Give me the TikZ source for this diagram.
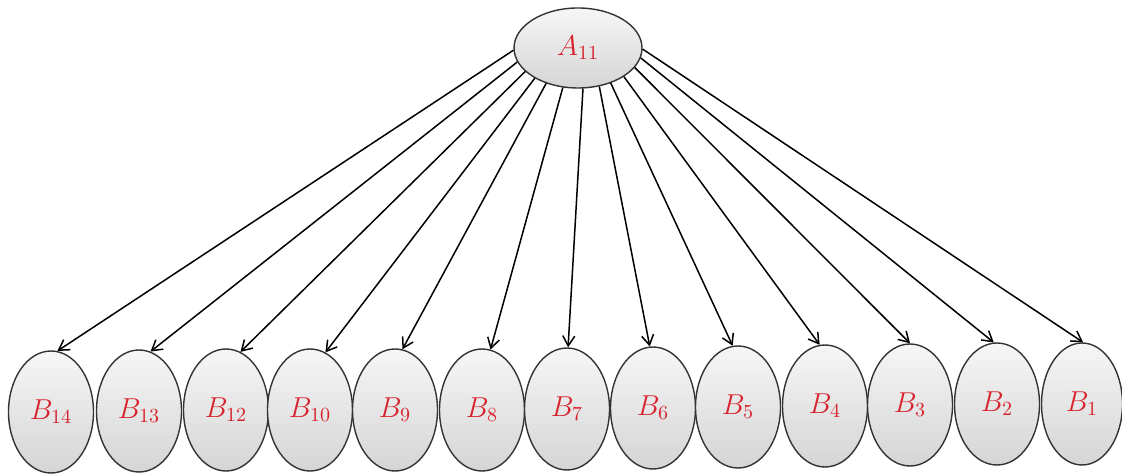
\documentclass[tikz,border=0pt]{standalone}
\usetikzlibrary{shapes.geometric,arrows.meta}
\definecolor{lblred}{RGB}{215,35,45}
\begin{document}
\begin{tikzpicture}[x=0.5pt,y=-0.5pt,
  bub/.style={ellipse,draw=black!80,line width=0.7pt,top color=gray!7,bottom color=gray!33,
     minimum width=42.5pt,minimum height=61pt,inner sep=0pt,text=lblred,font=\fontsize{14.5}{16}\selectfont},
  topbub/.style={bub,minimum width=64pt,minimum height=40pt},
  link/.style={line width=0.75pt,-{Straight Barb[length=5pt,width=6pt,line width=0.75pt]}}]
\useasboundingbox (0,0) rectangle (1122,474);
\node[topbub] (A) at (578,48) {$A_{11}$};
\node[bub] (b14) at (51,412) {$B_{14}$};
\node[bub] (b13) at (139,411) {$B_{13}$};
\node[bub] (b12) at (226,410) {$B_{12}$};
\node[bub] (b10) at (310,410) {$B_{10}$};
\node[bub] (b9) at (395,410) {$B_{9}$};
\node[bub] (b8) at (482,410) {$B_{8}$};
\node[bub] (b7) at (567,409) {$B_{7}$};
\node[bub] (b6) at (653,408) {$B_{6}$};
\node[bub] (b5) at (738,407) {$B_{5}$};
\node[bub] (b4) at (825,406) {$B_{4}$};
\node[bub] (b3) at (910,405) {$B_{3}$};
\node[bub] (b2) at (997,404) {$B_{2}$};
\node[bub,minimum width=40.5pt] (b1) at (1082,404) {$B_{1}$};
\foreach \s/\n/\e in {182/b14/84, 193/b13/79, 204/b12/76, 215/b10/75, 228/b9/83, 249/b8/82,
                      277/b7/89, 299/b6/93, 313/b5/95, 328/b4/95, 341/b3/90, 351/b2/93, 359/b1/89}
  \draw[link] (A.\s) -- (\n.\e);
\end{tikzpicture}
\end{document}
